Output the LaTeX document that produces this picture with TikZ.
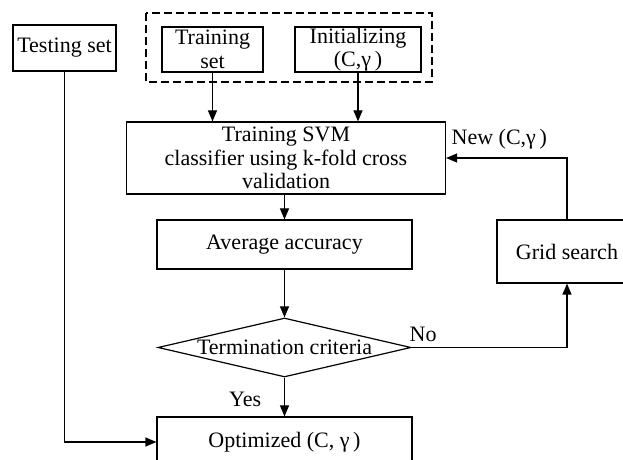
\documentclass[tikz,border=0pt]{standalone}
\usepackage{fontspec}
\setmainfont{Liberation Serif}
\usepackage{tikz}
\usetikzlibrary{shapes.geometric}
\usetikzlibrary{arrows.meta}

\begin{document}
\begin{tikzpicture}[x=0.5pt, y=-0.5pt, font=\fontsize{11pt}{11.75pt}\selectfont]
      % Definimos algunos estilos
      \tikzstyle{caja}=[
        rectangle,
        draw=black,
        line width=0.6pt,
        inner sep=0pt,
        align=center
      ]
      % rombo de decision
      \tikzstyle{decision}=[
        diamond,
        draw=black,
        line width=0.6pt,
        aspect=4.3,
        inner sep=0pt,
        minimum width=126.5pt,
        minimum height=29.5pt
      ]
      % flechas con punta rellena
      \tikzstyle{flecha}=[line width=0.6pt, -{Triangle[length=5.5pt, width=4.5pt]}]

      \useasboundingbox (0,0) rectangle (623,460);

      % conjunto de prueba
      \node[caja, minimum width=51.5pt, minimum height=23pt] (Test) at (64.5, 48) {Testing set};

      % grupo de entrada (recuadro discontinuo)
      \draw[line width=1pt, dash pattern=on 4pt off 2pt] (146, 13) rectangle (432, 82);
      \node[caja, minimum width=50.5pt, minimum height=22.5pt] (Train) at (212.5, 49.5) {Training\\set};
      \node[caja, minimum width=63pt, minimum height=22.5pt] (Init) at (358, 49.5) {Initializing\\(C,γ\,)};

      % entrenamiento SVM
      \node[caja, minimum width=159.5pt, minimum height=36pt] (SVM) at (286, 158) {Training SVM\\classifier using k-fold cross\\validation};

      % precision media
      \node[caja, minimum width=127.5pt, minimum height=24.5pt] (Avg) at (284.5, 244.5) {Average accuracy};

      % criterio de parada
      \node[decision] (Crit) at (284.5, 347.5) {Termination criteria};

      % (C, gamma) optimizado
      \node[caja, minimum width=127.5pt, minimum height=25pt] (Opt) at (284.5, 442) {Optimized (C, γ\,)};

      % busqueda en rejilla
      \node[caja, minimum width=70pt, minimum height=31.5pt] (Grid) at (567, 251.5) {Grid search};

      % flechas
      \draw[flecha] (Train.south) -- (Train.south |- SVM.north);
      \draw[flecha] (Init.south) -- (Init.south |- SVM.north);
      \draw[flecha] (Avg.north |- SVM.south) -- (Avg.north);
      \draw[flecha] (Avg.south) -- (Crit.north);
      \draw[flecha] (Crit.south) -- node[left, xshift=-8pt, yshift=-1pt] {Yes} (Opt.north);
      \draw[flecha] (Crit.east) -| node[pos=0.05, above, xshift=-2pt, yshift=-0.5pt] {No} (Grid.south);
      \draw[flecha] (Grid.north) |- node[pos=0.78, above, yshift=1pt] {New (C,γ\,)} (SVM.east);
      \draw[flecha] (Test.south) |- (Opt.west);
    \end{tikzpicture}
\end{document}
